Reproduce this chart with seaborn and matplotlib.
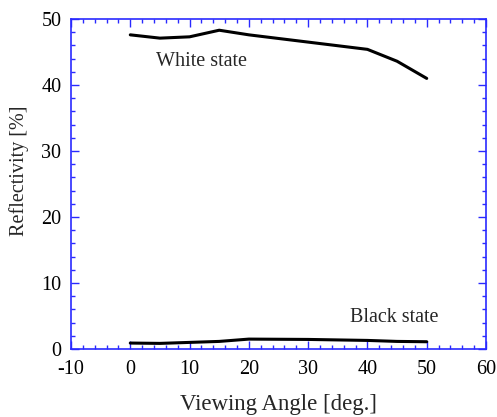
import matplotlib
matplotlib.use("Agg")
import matplotlib.pyplot as plt
import seaborn as sns
import pandas as pd
from matplotlib.ticker import MultipleLocator

# data
white_angle = [0, 5, 10, 15, 20, 40, 45, 50]
white_refl = [47.6, 47.1, 47.3, 48.3, 47.6, 45.4, 43.6, 41.0]
black_angle = [0, 5, 10, 15, 20, 30, 40, 45, 50]
black_refl = [0.9, 0.85, 1.0, 1.15, 1.5, 1.45, 1.3, 1.15, 1.1]

sns.set_style("ticks")
plt.rcParams['font.family'] = ['Liberation Serif', 'DejaVu Serif']
plt.rcParams['axes.unicode_minus'] = False

df = pd.concat([
    pd.DataFrame({'angle': white_angle, 'refl': white_refl, 'state': 'White state'}),
    pd.DataFrame({'angle': black_angle, 'refl': black_refl, 'state': 'Black state'}),
])

fig = plt.figure(figsize=(4.97, 4.17), dpi=100)
ax = fig.add_axes([71 / 497, 1 - 349 / 417, 415 / 497, 330 / 417])

sns.lineplot(data=df, x='angle', y='refl', units='state', estimator=None,
             color='black', linewidth=2.2, ax=ax, legend=False)

ax.set_xlim(-10, 60)
ax.set_ylim(0, 50)
ax.xaxis.set_major_locator(MultipleLocator(10))
ax.xaxis.set_minor_locator(MultipleLocator(2))
ax.yaxis.set_major_locator(MultipleLocator(10))
ax.yaxis.set_minor_locator(MultipleLocator(2))

blue = '#2a2aff'
for s in ax.spines.values():
    s.set_visible(True)
    s.set_color(blue)
    s.set_linewidth(1.2)
ax.tick_params(which='both', direction='in', top=True, right=True, color=blue,
               labelsize=14.5, labelcolor='black')
ax.tick_params(which='major', length=6, width=1.0)
ax.tick_params(which='minor', length=3, width=1.0)
ax.tick_params(axis='x', which='major', pad=8)
ax.tick_params(axis='y', which='major', pad=7)

ax.set_xlabel('Viewing Angle [deg.]', fontsize=16.5, labelpad=11)
ax.set_ylabel('Reflectivity [%]', fontsize=14.5)
ax.yaxis.set_label_coords(-0.101, 0.54)

ax.text(4.4, 43.5, 'White state', fontsize=14.5, va='center', ha='left')
ax.text(37.0, 4.8, 'Black state', fontsize=14.5, va='center', ha='left')

fig.savefig('out.png', dpi=100)
